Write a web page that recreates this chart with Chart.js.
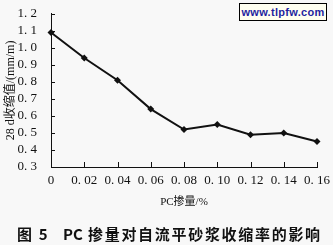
<!DOCTYPE html>
<html>
<head>
<meta charset="utf-8">
<script src="https://cdn.jsdelivr.net/npm/chart.js@4.4.1/dist/chart.umd.min.js"></script>
<style>
  body { margin: 0; background: #f8f8f8; }
  #wrap { position: relative; width: 333px; height: 245px; overflow: hidden; }
  #mark {
    position: absolute; left: 239px; top: 3px; width: 88px; height: 18px;
    box-sizing: border-box; border: 1px solid #000; background: #fffff0;
    font: bold 11px "Liberation Sans", Arial, sans-serif; color: #1f1fa0;
    text-align: center; line-height: 16px; letter-spacing: 0.3px;
  }
  #caption {
    position: absolute; top: 223px; left: 0; width: 333px; height: 20px;
    font: bold 15px "Noto Sans CJK SC", sans-serif; color: #111;
  }
  #caption span { position: absolute; top: 0; white-space: nowrap; }
  #caption .cjk { letter-spacing: 1.7px; }
</style>
</head>
<body>
<div id="wrap">
  <canvas id="chart" width="333" height="245"></canvas>
  <div id="mark">www.tlpfw.com</div>
  <div id="caption"><span class="cjk" style="left:17px">图 5</span><span style="left:63px">PC</span><span class="cjk" style="left:88px">掺量对自流平砂浆收缩率的影响</span></div>
</div>
<script>
// data
const pcDosage = [0, 0.02, 0.04, 0.06, 0.08, 0.10, 0.12, 0.14, 0.16];
const shrinkage = [1.09, 0.94, 0.81, 0.64, 0.52, 0.55, 0.49, 0.50, 0.45];

const xTickValues = [0, 0.02, 0.04, 0.06, 0.08, 0.10, 0.12, 0.14, 0.16];
const xTickLabels = ["0", "0. 02", "0. 04", "0. 06", "0. 08", "0. 10", "0. 12", "0. 14", "0. 16"];
const yTickValues = [0.3, 0.4, 0.5, 0.6, 0.7, 0.8, 0.9, 1.0, 1.1, 1.2];
const yTickLabels = ["0. 3", "0. 4", "0. 5", "0. 6", "0. 7", "0. 8", "0. 9", "1. 0", "1. 1", "1. 2"];

const xTitle = "PC掺量/%";
const yTitle = "28 d收缩值/(mm/m)";

const INK = "#111";
const serif = "'Liberation Serif', 'Noto Sans CJK SC', serif";

function labelFor(values, labels, v) {
  const i = values.findIndex(t => Math.abs(t - v) < 1e-6);
  return i >= 0 ? labels[i] : "";
}

// small inward tick marks like the printed figure
const inwardTicks = {
  id: "inwardTicks",
  afterDatasetsDraw(chart) {
    const { ctx, chartArea: a, scales: { x, y } } = chart;
    ctx.save();
    ctx.strokeStyle = INK;
    ctx.lineWidth = 1;
    ctx.beginPath();
    for (const v of yTickValues.slice(1)) {
      const py = Math.round(y.getPixelForValue(v)) + 0.5;
      ctx.moveTo(a.left, py); ctx.lineTo(a.left + 4, py);
    }
    for (const v of xTickValues.slice(1)) {
      const px = Math.round(x.getPixelForValue(v)) + 0.5;
      ctx.moveTo(px, a.bottom); ctx.lineTo(px, a.bottom - 5);
    }
    ctx.stroke();
    ctx.restore();
  }
};

new Chart(document.getElementById("chart").getContext("2d"), {
  type: "line",
  data: {
    datasets: [{
      data: pcDosage.map((p, i) => ({ x: p, y: shrinkage[i] })),
      borderColor: INK,
      borderWidth: 2,
      backgroundColor: INK,
      pointStyle: "rectRot",
      pointRadius: 3.5,
      pointBorderWidth: 0,
      tension: 0,
      fill: false,
      clip: false
    }]
  },
  options: {
    responsive: false,
    animation: false,
    devicePixelRatio: 1,
    layout: { padding: { left: 0, right: 16, top: 8, bottom: 28 } },
    plugins: { legend: { display: false }, tooltip: { enabled: false } },
    scales: {
      x: {
        type: "linear",
        min: 0, max: 0.16,
        afterBuildTicks: s => { s.ticks = xTickValues.map(v => ({ value: v })); },
        afterFit: s => { s.height = 50; },
        grid: { display: false },
        border: { display: true, color: INK, width: 1 },
        ticks: {
          color: INK, padding: -2, maxRotation: 0, autoSkip: false,
          font: { family: serif, size: 13 },
          callback: v => labelFor(xTickValues, xTickLabels, v)
        },
        title: {
          display: true, text: xTitle, color: INK,
          font: { family: serif, size: 11 },
          padding: { top: 0, bottom: 8 }
        }
      },
      y: {
        min: 0.3, max: 1.2,
        afterBuildTicks: s => { s.ticks = yTickValues.map(v => ({ value: v })); },
        afterFit: s => { s.width = 51; },
        grid: { display: false },
        border: { display: true, color: INK, width: 1 },
        ticks: {
          color: INK, padding: 6, autoSkip: false,
          font: { family: serif, size: 13 },
          callback: v => labelFor(yTickValues, yTickLabels, v)
        },
        title: {
          display: true, text: yTitle, color: INK,
          font: { family: serif, size: 12 },
          padding: { top: 4, bottom: 0 }
        }
      }
    }
  },
  plugins: [inwardTicks]
});
</script>
</body>
</html>
